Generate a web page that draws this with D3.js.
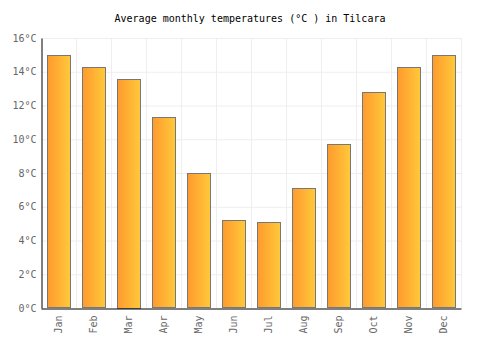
<!DOCTYPE html>
<html>
<head>
<meta charset="utf-8">
<script src="https://cdn.jsdelivr.net/npm/d3@7"></script>
<style>
  body { margin: 0; background: #fff; }
  text { font-family: "DejaVu Sans Mono", monospace; }
</style>
</head>
<body>
<div id="chart"></div>
<script>
// Monthly averages.
const months = ["Jan", "Feb", "Mar", "Apr", "May", "Jun", "Jul", "Aug", "Sep", "Oct", "Nov", "Dec"];
const temps = [15.0, 14.3, 13.6, 11.3, 8.0, 5.2, 5.1, 7.1, 9.7, 12.8, 14.3, 15.0];
const yTicks = [0, 2, 4, 6, 8, 10, 12, 14, 16];

const w = 500, h = 350;
const plotLeft = 41, plotRight = 461, plotTop = 38, plotBottom = 308;

const svg = d3.select("#chart")
    .append("svg")
    .attr("width", w)
    .attr("height", h);

// Gradient for bars: darker orange on the left, yellow on the right.
const grad = svg.append("defs").append("linearGradient")
    .attr("id", "barGrad")
    .attr("x1", "0%").attr("x2", "100%")
    .attr("y1", "0%").attr("y2", "0%");
grad.append("stop").attr("offset", "0%").attr("stop-color", "#ff9a2e");
grad.append("stop").attr("offset", "100%").attr("stop-color", "#ffc93a");

const xScale = d3.scaleBand()
    .domain(months)
    .range([plotLeft, plotRight]);
const yScale = d3.scaleLinear()
    .domain([0, 16])
    .range([plotBottom, plotTop]);

// Grid lines.
svg.append("g")
    .selectAll("line")
    .data(yTicks.slice(1))
    .enter()
    .append("line")
    .attr("x1", plotLeft)
    .attr("x2", plotRight)
    .attr("y1", d => yScale(d) + 0.5)
    .attr("y2", d => yScale(d) + 0.5)
    .attr("stroke", "#eeeeee");

svg.append("g")
    .selectAll("line")
    .data(months)
    .enter()
    .append("line")
    .attr("x1", d => Math.round(xScale(d) + xScale.bandwidth()) + 0.5)
    .attr("x2", d => Math.round(xScale(d) + xScale.bandwidth()) + 0.5)
    .attr("y1", plotTop)
    .attr("y2", plotBottom)
    .attr("stroke", "#eeeeee");

// Bars.
const barW = xScale.bandwidth() * 0.67;
svg.append("g")
    .selectAll("rect")
    .data(temps)
    .enter()
    .append("rect")
    .attr("x", (d, i) => Math.round(xScale(months[i]) + (xScale.bandwidth() - barW) / 2) + 0.5)
    .attr("y", d => Math.round(yScale(d)) + 0.5)
    .attr("width", Math.round(barW))
    .attr("height", d => Math.round(plotBottom - yScale(d)) - 1)
    .attr("fill", "url(#barGrad)")
    .attr("stroke", "#777777")
    .attr("stroke-width", 1);

// Y axis.
const yAxis = d3.axisLeft(yScale)
    .tickValues(yTicks)
    .tickFormat(d => d + "°C")
    .tickSize(0)
    .tickPadding(5);
const yG = svg.append("g")
    .attr("transform", `translate(${plotLeft + 0.5},0)`)
    .call(yAxis);
yG.select(".domain").attr("stroke", "#000");
yG.selectAll("text").attr("fill", "#666").attr("font-size", 10)
    .style("font-family", "'DejaVu Sans Mono', monospace");

// X axis.
const xAxis = d3.axisBottom(xScale).tickSize(0).tickSizeOuter(0).tickPadding(6);
const xG = svg.append("g")
    .attr("transform", `translate(0,${plotBottom + 0.5})`)
    .call(xAxis);
xG.select(".domain").attr("stroke", "#000");
xG.selectAll("text")
    .attr("fill", "#666")
    .attr("font-size", 10)
    .style("font-family", "'DejaVu Sans Mono', monospace")
    .attr("text-anchor", "end")
    .attr("dy", "0.35em")
    .attr("transform", "rotate(-90)")
    .attr("x", -7)
    .attr("y", 0);

// Title.
svg.append("text")
    .attr("x", w / 2)
    .attr("y", 22)
    .attr("text-anchor", "middle")
    .attr("font-size", 10)
    .attr("fill", "#000")
    .text("Average monthly temperatures (°C ) in Tilcara");
</script>
</body>
</html>
